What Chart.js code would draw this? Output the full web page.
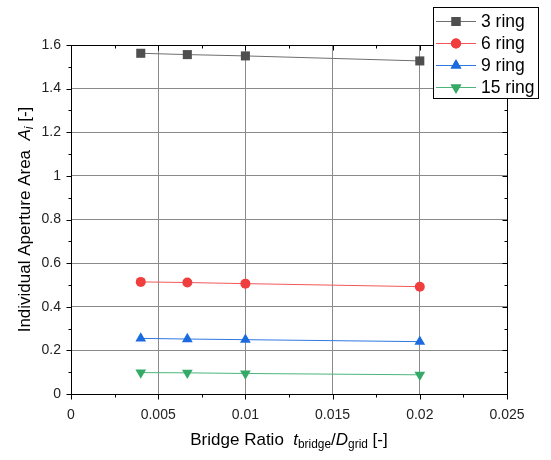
<!DOCTYPE html>
<html>
<head>
<meta charset="utf-8">
<script src="https://cdn.jsdelivr.net/npm/chart.js@4/dist/chart.umd.min.js"></script>
<style>
  html, body { margin: 0; padding: 0; background: #fff; }
  #wrap { width: 551px; height: 460px; }
</style>
</head>
<body>
<div id="wrap"><canvas id="chart" width="551" height="460"></canvas></div>
<script>
// --- data ---
const bridgeRatio = [0.004, 0.00667, 0.01, 0.02];
const ring3 = [1.562, 1.556, 1.550, 1.527];
const ring6 = [0.514, 0.511, 0.506, 0.492];
const ring9 = [0.255, 0.252, 0.249, 0.240];
const ring15 = [0.098, 0.097, 0.094, 0.088];
const seriesNames = ['3 ring', '6 ring', '9 ring', '15 ring'];

const FONT = '"Liberation Sans", Arial, sans-serif';

function pts(ys) {
    return bridgeRatio.map((x, i) => ({ x: x, y: ys[i] }));
}

function makeSet(label, ys, lineColor, fill, style, radius, rot) {
    return {
        label: label,
        data: pts(ys),
        showLine: true,
        borderColor: lineColor,
        borderWidth: 1,
        pointStyle: style,
        pointRadius: radius,
        pointRotation: rot || 0,
        pointBackgroundColor: fill,
        pointBorderColor: fill,
        pointBorderWidth: 0,
        pointHoverRadius: radius
    };
}

// draw a line of text made of pieces (italic / subscript)
function richText(ctx, parts, size) {
    const pieces = parts.map(p => {
        const s = p.sub ? size * 0.7 : size;
        const f = (p.italic ? 'italic ' : '') + s + 'px ' + FONT;
        ctx.font = f;
        return { t: p.t, font: f, w: ctx.measureText(p.t).width, dy: p.sub ? size * 0.3 : 0 };
    });
    const total = pieces.reduce((a, p) => a + p.w, 0);
    let x = -total / 2;
    ctx.textBaseline = 'middle';
    ctx.textAlign = 'left';
    pieces.forEach(p => {
        ctx.font = p.font;
        ctx.fillText(p.t, x, p.dy);
        x += p.w;
    });
}

const framePlugin = {
    id: 'frame',
    afterDraw(chart) {
        const ctx = chart.ctx;
        const a = chart.chartArea;
        const xs = chart.scales.x, ys = chart.scales.y;
        ctx.save();
        ctx.strokeStyle = '#000';
        ctx.lineWidth = 1;
        const L = Math.round(a.left) + 0.5, R = Math.round(a.right) + 0.5;
        const T = Math.round(a.top) + 0.5, B = Math.round(a.bottom) + 0.5;
        ctx.strokeRect(L, T, R - L, B - T);

        ctx.beginPath();
        // x ticks (major + minor)
        for (let v = 0; v <= 0.02501; v += 0.0025) {
            const major = Math.round(v / 0.0025) % 2 === 0;
            const len = major ? 5 : 3;
            const px = Math.round(xs.getPixelForValue(v)) + 0.5;
            ctx.moveTo(px, B); ctx.lineTo(px, B + len);
            ctx.moveTo(px, T); ctx.lineTo(px, T + len);
        }
        // y ticks
        for (let v = 0; v <= 1.601; v += 0.1) {
            const major = Math.round(v / 0.1) % 2 === 0;
            const len = major ? 5 : 3;
            const py = Math.round(ys.getPixelForValue(v)) + 0.5;
            ctx.moveTo(L, py); ctx.lineTo(L - len, py);
            ctx.moveTo(R, py); ctx.lineTo(R - len, py);
        }
        ctx.stroke();

        // axis titles
        ctx.fillStyle = '#000';
        ctx.save();
        ctx.translate((a.left + a.right) / 2, 440);
        richText(ctx, [
            { t: 'Bridge Ratio  ' },
            { t: 't', italic: true },
            { t: 'bridge', sub: true },
            { t: '/' },
            { t: 'D', italic: true },
            { t: 'grid', sub: true },
            { t: ' [-]' }
        ], 17);
        ctx.restore();

        ctx.save();
        ctx.translate(25, (a.top + a.bottom) / 2);
        ctx.rotate(-Math.PI / 2);
        richText(ctx, [
            { t: 'Individual Aperture Area  ' },
            { t: 'A', italic: true },
            { t: 'i', italic: true, sub: true },
            { t: ' [-]' }
        ], 17);
        ctx.restore();

        // legend box
        const bx = 433.5, by = 7.5, bw = 105, bh = 91;
        ctx.fillStyle = '#fff';
        ctx.fillRect(bx, by, bw, bh);
        ctx.strokeStyle = '#000';
        ctx.strokeRect(bx, by, bw, bh);
        chart.data.datasets.forEach((ds, i) => {
            const cy = 21.5 + i * 22;
            ctx.strokeStyle = ds.borderColor;
            ctx.lineWidth = 1;
            ctx.beginPath();
            ctx.moveTo(436, cy); ctx.lineTo(476, cy);
            ctx.stroke();
            ctx.fillStyle = ds.pointBackgroundColor;
            Chart.helpers.drawPoint(ctx, {
                pointStyle: ds.pointStyle,
                rotation: ds.pointRotation,
                radius: ds.pointRadius,
                borderWidth: 0
            }, 456, cy);
            ctx.fill();
            ctx.fillStyle = '#000';
            ctx.font = '17.5px ' + FONT;
            ctx.textAlign = 'left';
            ctx.textBaseline = 'middle';
            ctx.fillText(ds.label, 481, cy + 1);
        });
        ctx.restore();
    }
};

new Chart(document.getElementById('chart'), {
    type: 'scatter',
    data: {
        datasets: [
            makeSet(seriesNames[0], ring3, '#6e6e6e', '#4f4f4f', 'rect', 6.4),
            makeSet(seriesNames[1], ring6, '#f25656', '#f03d3d', 'circle', 5),
            makeSet(seriesNames[2], ring9, '#2f78e0', '#1b6ade', 'triangle', 6.2),
            makeSet(seriesNames[3], ring15, '#4cb57a', '#35aa68', 'triangle', 6.2, 180)
        ]
    },
    options: {
        responsive: false,
        animation: false,
        devicePixelRatio: 1,
        layout: { padding: { left: 0, top: 45, right: 44, bottom: 0 } },
        plugins: {
            legend: { display: false },
            tooltip: { enabled: false }
        },
        scales: {
            x: {
                type: 'linear',
                min: 0, max: 0.025,
                afterFit(s) { s.height = 66; },
                border: { display: false },
                grid: { color: '#8a8a8a', lineWidth: 1, drawTicks: false },
                ticks: {
                    stepSize: 0.005,
                    padding: 13,
                    color: '#222',
                    font: { family: FONT, size: 14 },
                    callback: v => String(Number(v.toFixed(3)))
                }
            },
            y: {
                type: 'linear',
                min: 0, max: 1.6,
                afterFit(s) { s.width = 71; },
                border: { display: false },
                grid: { color: '#8a8a8a', lineWidth: 1, drawTicks: false },
                ticks: {
                    stepSize: 0.2,
                    padding: 10,
                    color: '#222',
                    font: { family: FONT, size: 14 },
                    callback: v => String(Number(v.toFixed(1)))
                }
            }
        }
    },
    plugins: [framePlugin]
});
</script>
</body>
</html>
